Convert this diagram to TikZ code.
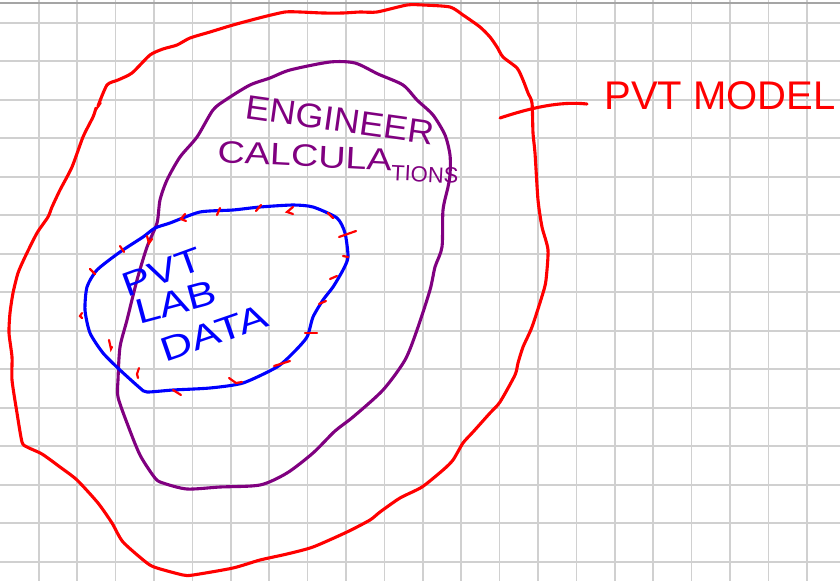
\documentclass[tikz,border=0pt]{standalone}
\usepackage{fontspec}
\setmainfont{Liberation Sans}
\definecolor{penred}{RGB}{255,0,0}
\definecolor{penpurple}{RGB}{128,0,128}
\definecolor{penblue}{RGB}{0,0,255}
\definecolor{gridgray}{RGB}{208,208,208}
\definecolor{edgegray}{RGB}{165,165,165}
\begin{document}
\begin{tikzpicture}[x=1pt,y=-1pt,
  gridline/.style={gridgray,line width=1.6pt},
  pen/.style={line width=3.1pt,line cap=round,line join=round},
  tickmark/.style={penred,line width=2.2pt,line cap=round},
  hand/.style={inner sep=0pt}]
\useasboundingbox (0,0) rectangle (840,581);
\fill[white] (0,0) rectangle (840,581);
\foreach \i in {0,...,20} \draw[gridline] ({38.8+38.4*\i},0) -- ++(0,581);
\foreach \j in {0,...,14} \draw[gridline] (0,{22.7+38.5*\j}) -- ++(840,0);
\draw[edgegray, line width=2pt] (0,2.5) -- (840,2.5);
% red outer curve
\draw[pen,penred] plot[smooth,tension=0.4] coordinates {
(98,106) (107,85) (118,80) (132,73) (150,55) (163,49) (177,45) (190,38) (210,32) (233,25) (263,17) (285,12) (300,12) (323,13) (343,13) (360,12) (377,12) (407,5) (423,5) (450,7) (463,15) (480,27) (490,37) (497,47) (503,57) (517,68) (523,80) (528,93) (532,103) (533,133) (535,153) (538,200) (542,227) (548,250) (546,280) (543,293) (532,327) (523,347) (518,363) (515,375) (500,402) (490,413) (473,432) (463,443) (453,460) (443,470) (422,487) (400,498) (380,512) (370,520) (347,532) (313,547) (287,554) (260,560) (233,568) (193,575) (183,575) (157,568) (147,563) (123,542) (112,523) (98,503) (77,480) (60,467) (42,454) (27,447) (22,442) (17,413) (12,380) (12,357) (9,333) (10,313) (13,293) (18,273) (25,257) (37,233) (48,217) (52,207) (60,190) (72,167) (83,137) (93,117) (96,108)};
\draw[pen,penred,line width=1.6pt] (96,110) -- (101,103);
% purple curve
\draw[pen,penpurple] plot[smooth cycle,tension=0.45] coordinates {
(160,200) (167,180) (180,157) (197,137) (213,110) (227,99) (250,85) (270,78) (290,70) (330,62) (355,63) (378,74) (403,85) (417,100) (433,115) (445,135) (450,155) (450,175) (448,187) (443,210) (442,247) (435,267) (430,290) (417,330) (405,360) (383,390) (353,417) (335,431) (313,453) (287,473) (260,485) (220,487) (187,489) (163,483) (155,478) (140,455) (127,423) (118,397) (118,380) (120,347) (127,320) (137,280) (147,247) (157,223)};
% blue blob
\draw[pen,penblue] plot[smooth cycle,tension=0.4] coordinates {
(155,228) (170,223) (200,212) (233,210) (260,207) (293,205) (313,207) (337,218) (345,233) (348,257) (343,270) (333,287) (323,300) (313,317) (307,337) (293,353) (277,367) (243,383) (210,388) (173,390) (147,392) (140,388) (120,370) (103,353) (90,333) (85,310) (87,287) (97,270) (120,252) (143,237)};
% red ticks on the blue line
\draw[tickmark] (120,246) -- (124,252);
\draw[tickmark] (147,236) -- (149,243) -- (152,239);
\draw[tickmark] (185,214) -- (181,219) -- (186,221);
\draw[tickmark] (217,215) -- (220,208);
\draw[tickmark] (256,211) -- (261,205);
\draw[tickmark] (293,207) -- (287,212) -- (293,214);
\draw[tickmark] (328,213) -- (333,218);
\draw[tickmark] (339,237) -- (356,231);
\draw[tickmark] (343,256) -- (348,257);
\draw[tickmark] (330,279) -- (337,276);
\draw[tickmark] (319,304) -- (326,301);
\draw[tickmark] (305,333) -- (317,333);
\draw[tickmark] (274,366) -- (290,361);
\draw[tickmark] (229,378) -- (236,383) -- (242,382);
\draw[tickmark] (173,390) -- (181,395);
\draw[tickmark] (139,368) -- (137,374) -- (138,378);
\draw[tickmark] (109,340) -- (111,349) -- (112,347);
\draw[tickmark] (82,313) -- (80,316) -- (82,318);
\draw[tickmark] (90,269) -- (95,274);
% pointer to the label
\coordinate (ptr) at (500,118);
\coordinate (ptrend) at (587,104);
\draw[pen,penred] (ptr) .. controls (530,108) and (560,101) .. (ptrend);
% texts
\node[hand,penred,font=\fontsize{40}{40}\selectfont] (model) at (720,96) {PVT MODEL};
\node[hand,penpurple,font=\fontsize{34}{34}\selectfont,rotate=-8] (eng) at (340,120) {\scalebox{1.07}[1]{ENGINEER}};
\node[hand,penpurple,font=\fontsize{31}{31}\selectfont,rotate=-3,anchor=base west] (calc) at (217,162) {\scalebox{1.22}[1]{CALCULA}\raisebox{-9pt}{\fontsize{22}{22}\selectfont TIONS}};
\node[hand,penblue,font=\fontsize{34}{34}\selectfont,rotate=20] (pvt) at (162,272) {\scalebox{1.25}[1]{PVT}};
\node[hand,penblue,font=\fontsize{35}{35}\selectfont,rotate=15] (lab) at (176,302) {\scalebox{1.25}[1]{LAB}};
\node[hand,penblue,font=\fontsize{34}{34}\selectfont,rotate=19] (data) at (214,333) {\scalebox{1.3}[1]{DATA}};
\end{tikzpicture}
\end{document}
